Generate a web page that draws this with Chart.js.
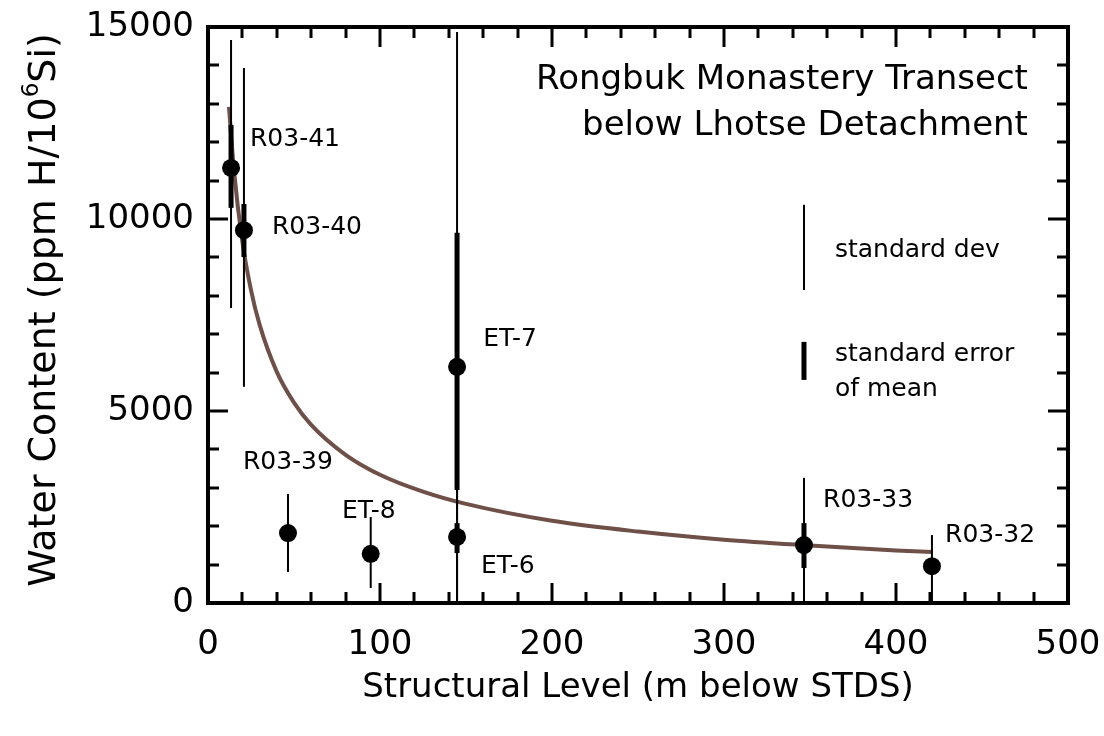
<!DOCTYPE html>
<html>
<head>
<meta charset="utf-8">
<script src="https://cdn.jsdelivr.net/npm/chart.js@4.4.1/dist/chart.umd.min.js"></script>
<style>
  html, body { margin: 0; padding: 0; background: #fff; }
  #wrap { width: 1104px; height: 736px; }
</style>
</head>
<body>
<div id="wrap"><canvas id="chart" width="1104" height="736"></canvas></div>
<script>
// --- Data ---
const samples  = ['R03-41', 'R03-40', 'R03-39', 'ET-8', 'ET-7', 'ET-6', 'R03-33', 'R03-32'];
const depthM   = [13.4, 20.9, 46.5, 94.6, 144.8, 144.8, 346.5, 420.9];
const waterPpm = [11330, 9710, 1820, 1280, 6150, 1720, 1510, 960];

// standard deviation bars
const sdLow  = [7680, 5630, 810, 390, 0, 0, 0, 0];
const sdHigh = [14660, 13930, 2840, 2240, 14870, 3300, 3260, 1770];

// standard error of mean bars (null = not shown)
const seLow  = [10290, 9010, null, null, 2940, 1300, 910, null];
const seHigh = [12450, 10390, null, null, 9640, 2080, 2080, null];

// fitted curve
const fitDepth = [12.2, 15, 20, 25, 30, 40, 50, 60, 80, 100, 125, 150, 200, 250, 300, 350, 400, 421];
const fitWater = [12920, 11310, 9400, 8150, 7250, 6020, 5220, 4640, 3860, 3340, 2900, 2580, 2140, 1860, 1650, 1500, 1370, 1330];

// legend key bars
const keyDepth = 346.5;
const keySd = [8150, 10370];
const keySe = [5810, 6800];

const xLabelTicks = [0, 100, 200, 300, 400, 500];
const yLabelTicks = [0, 5000, 10000, 15000];

// text placed in data units: [text, x, y, align]
const notes = [
    ['R03-41', 24.4, 12060, 'left'],
    ['R03-40', 37.2, 9790, 'left'],
    ['R03-39', 20.3, 3650, 'left'],
    ['ET-8', 77.9, 2370, 'left'],
    ['ET-7', 160, 6850, 'left'],
    ['ET-6', 158.7, 960, 'left'],
    ['R03-33', 357.6, 2680, 'left'],
    ['R03-32', 428.5, 1770, 'left'],
    ['standard dev', 364.5, 9190, 'left'],
    ['standard error', 364.5, 6460, 'left'],
    ['of mean', 364.5, 5550, 'left']
];
const titleLines = [
    ['Rongbuk Monastery Transect', 476.7, 13620],
    ['below Lhotse Detachment', 476.7, 12420]
];

const FONT = "'DejaVu Sans', sans-serif";

// --- Datasets ---
const datasets = [];

datasets.push({
    data: fitDepth.map((x, i) => ({ x: x, y: fitWater[i] })),
    showLine: true,
    borderColor: '#6e5048',
    borderWidth: 4,
    pointRadius: 0,
    cubicInterpolationMode: 'monotone',
    order: 3
});

function bar(x, lo, hi, width) {
    return {
        data: [{ x: x, y: lo }, { x: x, y: hi }],
        showLine: true,
        borderColor: '#000',
        borderWidth: width,
        pointRadius: 0,
        order: 2
    };
}

samples.forEach((name, i) => {
    datasets.push(bar(depthM[i], sdLow[i], sdHigh[i], 2));
    if (seLow[i] !== null) {
        datasets.push(bar(depthM[i], seLow[i], seHigh[i], 5));
    }
});

datasets.push(bar(keyDepth, keySd[0], keySd[1], 2));
datasets.push(bar(keyDepth, keySe[0], keySe[1], 5));

datasets.push({
    data: depthM.map((x, i) => ({ x: x, y: waterPpm[i] })),
    showLine: false,
    pointRadius: 9,
    pointBackgroundColor: '#000',
    pointBorderWidth: 0,
    order: 1
});

// --- Plugins ---
const frameTicks = {
    id: 'frameTicks',
    afterDatasetsDraw(chart) {
        const { ctx, chartArea: a, scales: { x, y } } = chart;
        ctx.save();
        ctx.strokeStyle = '#000';
        ctx.lineWidth = 3;
        x.ticks.forEach(t => {
            const px = Math.round(x.getPixelForValue(t.value));
            const len = xLabelTicks.includes(t.value) ? 20 : 11;
            ctx.beginPath();
            ctx.moveTo(px, a.bottom); ctx.lineTo(px, a.bottom - len);
            ctx.moveTo(px, a.top); ctx.lineTo(px, a.top + len);
            ctx.stroke();
        });
        y.ticks.forEach(t => {
            const py = Math.round(y.getPixelForValue(t.value));
            const len = yLabelTicks.includes(t.value) ? 20 : 11;
            ctx.beginPath();
            ctx.moveTo(a.left, py); ctx.lineTo(a.left + len, py);
            ctx.moveTo(a.right, py); ctx.lineTo(a.right - len, py);
            ctx.stroke();
        });
        ctx.lineWidth = 4;
        ctx.strokeRect(a.left, a.top, a.right - a.left, a.bottom - a.top);
        ctx.restore();
    }
};

const textLayer = {
    id: 'textLayer',
    afterDraw(chart) {
        const { ctx, scales: { x, y } } = chart;
        ctx.save();
        ctx.fillStyle = '#000';
        ctx.textBaseline = 'middle';

        ctx.font = '25px ' + FONT;
        notes.forEach(([txt, dx, dy, align]) => {
            ctx.textAlign = align;
            ctx.fillText(txt, x.getPixelForValue(dx), y.getPixelForValue(dy));
        });

        ctx.font = '34px ' + FONT;
        ctx.textAlign = 'right';
        titleLines.forEach(([txt, dx, dy]) => {
            ctx.fillText(txt, x.getPixelForValue(dx), y.getPixelForValue(dy));
        });

        // y axis title with superscript
        const main1 = 'Water Content (ppm H/10';
        const sup = '6';
        const main2 = 'Si)';
        const big = '38px ' + FONT;
        const small = '23px ' + FONT;
        ctx.font = big;
        const w1 = ctx.measureText(main1).width;
        const w3 = ctx.measureText(main2).width;
        ctx.font = small;
        const w2 = ctx.measureText(sup).width;
        const total = w1 + w2 + w3;
        ctx.translate(42, 310);
        ctx.rotate(-Math.PI / 2);
        ctx.textAlign = 'left';
        ctx.textBaseline = 'alphabetic';
        let cx = -total / 2;
        ctx.font = big;
        ctx.fillText(main1, cx, 13);
        cx += w1;
        ctx.font = small;
        ctx.fillText(sup, cx, -4);
        cx += w2;
        ctx.font = big;
        ctx.fillText(main2, cx, 13);
        ctx.restore();
    }
};

// --- Chart ---
new Chart(document.getElementById('chart'), {
    type: 'scatter',
    data: { datasets: datasets },
    options: {
        responsive: false,
        animation: false,
        devicePixelRatio: 1,
        layout: { padding: { left: 0, right: 36, top: 27, bottom: 0 } },
        plugins: {
            legend: { display: false },
            tooltip: { enabled: false }
        },
        scales: {
            x: {
                type: 'linear',
                min: 0,
                max: 500,
                afterFit: s => { s.height = 133; s.paddingLeft = 0; s.paddingRight = 0; },
                grid: { display: false },
                border: { display: false },
                ticks: {
                    stepSize: 20,
                    autoSkip: false,
                    maxRotation: 0,
                    padding: 14,
                    color: '#000',
                    font: { family: FONT, size: 34 },
                    callback: v => xLabelTicks.includes(v) ? String(v) : ''
                },
                title: {
                    display: true,
                    text: 'Structural Level (m below STDS)',
                    color: '#000',
                    font: { family: FONT, size: 34 },
                    padding: { top: 0, bottom: 27 }
                }
            },
            y: {
                type: 'linear',
                min: 0,
                max: 15000,
                afterFit: s => { s.width = 208; s.paddingTop = 0; s.paddingBottom = 0; },
                grid: { display: false },
                border: { display: false },
                ticks: {
                    stepSize: 1000,
                    autoSkip: false,
                    padding: 6,
                    color: '#000',
                    font: { family: FONT, size: 34 },
                    callback: v => yLabelTicks.includes(v) ? String(v) : ''
                }
            }
        }
    },
    plugins: [frameTicks, textLayer]
});
</script>
</body>
</html>
